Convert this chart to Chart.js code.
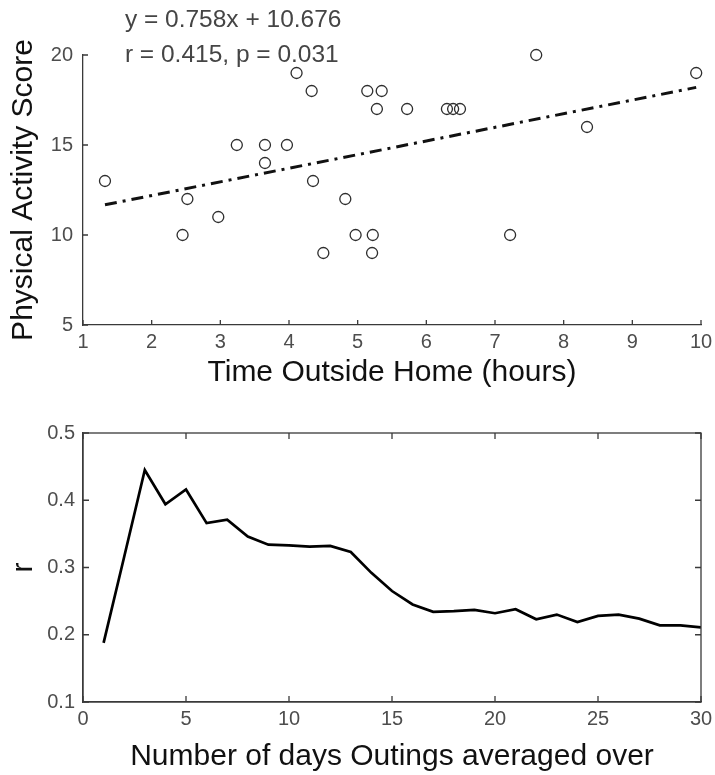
<!DOCTYPE html>
<html><head><meta charset="utf-8">
<script src="https://cdn.jsdelivr.net/npm/chart.js@4.4.0/dist/chart.umd.min.js"></script>
<style>
html,body{margin:0;padding:0;background:#fff;}
#wrap{position:relative;width:715px;height:775px;overflow:hidden;}
canvas{position:absolute;left:0;}
#c1{top:0;}
#c2{top:395px;}
</style></head><body>
<div id="wrap"><canvas id="c1" width="715" height="395"></canvas><canvas id="c2" width="715" height="380"></canvas></div>
<script>
// ---- Top panel data ----
const timeOutside = [1.32, 2.45, 2.52, 2.97, 3.24, 3.65, 3.65, 3.97, 4.11, 4.33, 4.35, 4.50, 4.82, 4.97, 5.14, 5.22, 5.21, 5.28, 5.35, 5.72, 6.30, 6.39, 6.49, 7.22, 7.60, 8.34, 9.93];
const activityScore = [13, 10, 12, 11, 15, 15, 14, 15, 19, 18, 13, 9, 12, 10, 18, 10, 9, 17, 18, 17, 17, 17, 17, 10, 20, 16, 19];
const fitX = [1.32, 9.93];
const fitY = [11.68, 18.20];
const fitText = ['y = 0.758x + 10.676', 'r = 0.415, p = 0.031'];
const fitTextX = 1.61;
const fitTextY = [21.56, 19.61];
const topXTicks = [1, 2, 3, 4, 5, 6, 7, 8, 9, 10];
const topYTicks = [5, 10, 15, 20];

// ---- Bottom panel data ----
const daysAveraged = [1,2,3,4,5,6,7,8,9,10,11,12,13,14,15,16,17,18,19,20,21,22,23,24,25,26,27,28,29,30];
const rValues = [0.188, 0.316, 0.445, 0.394, 0.416, 0.366, 0.371, 0.346, 0.334, 0.333,
                 0.331, 0.332, 0.323, 0.292, 0.265, 0.245, 0.234, 0.235, 0.237, 0.232,
                 0.238, 0.223, 0.230, 0.219, 0.228, 0.230, 0.224, 0.214, 0.214, 0.211];
const bottomXTicks = [0, 5, 10, 15, 20, 25, 30];
const bottomYTicks = [0.1, 0.2, 0.3, 0.4, 0.5];

const FONT = '"Liberation Sans", Arial, Helvetica, sans-serif';
Chart.defaults.font.family = FONT;
const AXIS = '#3a3a3a';
const TICKTXT = '#4d4d4d';

const inwardTicks = {
  id: 'inwardTicks',
  afterDraw(chart, args, opts) {
    const {ctx, chartArea: a, scales} = chart;
    const L = opts.len;
    ctx.save();
    ctx.strokeStyle = AXIS; ctx.lineWidth = 1.3;
    if (opts.box) ctx.strokeRect(a.left, a.top, a.right - a.left, a.bottom - a.top);
    ctx.beginPath();
    scales.x.ticks.forEach(t => {
      const px = scales.x.getPixelForValue(t.value);
      ctx.moveTo(px, a.bottom); ctx.lineTo(px, a.bottom - L);
      if (opts.box) { ctx.moveTo(px, a.top); ctx.lineTo(px, a.top + L); }
    });
    scales.y.ticks.forEach(t => {
      const py = scales.y.getPixelForValue(t.value);
      ctx.moveTo(a.left, py); ctx.lineTo(a.left + L, py);
      if (opts.box) { ctx.moveTo(a.right, py); ctx.lineTo(a.right - L, py); }
    });
    ctx.stroke();
    ctx.restore();
  }
};

const fitLabel = {
  id: 'fitLabel',
  afterDraw(chart, args, opts) {
    if (!opts.lines) return;
    const {ctx, scales} = chart;
    ctx.save();
    ctx.font = '24.5px ' + FONT;
    ctx.fillStyle = '#454545';
    ctx.textBaseline = 'alphabetic';
    ctx.textAlign = 'left';
    const x = scales.x.getPixelForValue(opts.xValue);
    opts.lines.forEach((s, i) => ctx.fillText(s, x, scales.y.getPixelForValue(opts.yValues[i])));
    ctx.restore();
  }
};

function fixedTicks(list) {
  return function (scale) { scale.ticks = list.map(v => ({value: v})); };
}

function xScale(min, max, ticks, title, height, pad) {
  return {
    type: 'linear', position: 'bottom', min, max,
    afterBuildTicks: fixedTicks(ticks),
    afterFit(s) { s.height = height; s.paddingLeft = 0; s.paddingRight = 0; },
    grid: {display: false, drawTicks: false},
    border: {display: true, color: AXIS, width: 1.3},
    ticks: {color: TICKTXT, font: {size: 20}, padding: 5, autoSkip: false, maxRotation: 0,
            callback: v => String(v)},
    title: {display: true, text: title, color: '#111', font: {size: 30}, padding: {top: 0, bottom: pad}}
  };
}
function yScale(min, max, ticks, title, tpad, fmt) {
  return {
    type: 'linear', position: 'left', min, max,
    afterBuildTicks: fixedTicks(ticks),
    afterFit(s) { s.width = 83; s.paddingTop = 0; s.paddingBottom = 0; },
    grid: {display: false, drawTicks: false},
    border: {display: true, color: AXIS, width: 1.3},
    ticks: {color: TICKTXT, font: {size: 20}, padding: tpad, autoSkip: false,
            callback: fmt},
    title: {display: true, text: title, color: '#111', font: {size: 30}, padding: {top: 6, bottom: 0}}
  };
}

new Chart(document.getElementById('c1'), {
  type: 'scatter',
  data: {
    datasets: [
      {
        label: 'Participants',
        data: timeOutside.map((x, i) => ({x, y: activityScore[i]})),
        pointStyle: 'circle', pointRadius: 5.5, pointBorderWidth: 1.3,
        pointBorderColor: '#2e2e2e', pointBackgroundColor: 'rgba(0,0,0,0)',
        showLine: false, clip: false
      },
      {
        label: 'Fit',
        data: fitX.map((x, i) => ({x, y: fitY[i]})),
        showLine: true, borderColor: '#111', borderWidth: 3,
        borderDash: [12, 6, 3, 6], pointRadius: 0, fill: false
      }
    ]
  },
  options: {
    responsive: false, animation: false,
    layout: {padding: {top: 55, right: 14, bottom: 0, left: 0}},
    plugins: {
      legend: {display: false}, tooltip: {enabled: false},
      inwardTicks: {len: 5, box: false},
      fitLabel: {lines: fitText, xValue: fitTextX, yValues: fitTextY}
    },
    scales: {
      x: xScale(1, 10, topXTicks, 'Time Outside Home (hours)', 70, 4),
      y: yScale(5, 20, topYTicks, 'Physical Activity Score', 10, v => String(v))
    }
  },
  plugins: [inwardTicks, fitLabel]
});

new Chart(document.getElementById('c2'), {
  type: 'line',
  data: {
    datasets: [{
      label: 'r',
      data: daysAveraged.map((x, i) => ({x, y: rValues[i]})),
      borderColor: '#000', borderWidth: 2.7, pointRadius: 0, tension: 0, fill: false
    }]
  },
  options: {
    responsive: false, animation: false,
    layout: {padding: {top: 38, right: 14, bottom: 0, left: 0}},
    plugins: {
      legend: {display: false}, tooltip: {enabled: false},
      inwardTicks: {len: 6, box: true},
      fitLabel: {}
    },
    scales: {
      x: xScale(0, 30, bottomXTicks, 'Number of days Outings averaged over', 73, 0),
      y: yScale(0.1, 0.5, bottomYTicks, 'r', 8, v => v.toFixed(1))
    }
  },
  plugins: [inwardTicks, fitLabel]
});
</script>
</body></html>
